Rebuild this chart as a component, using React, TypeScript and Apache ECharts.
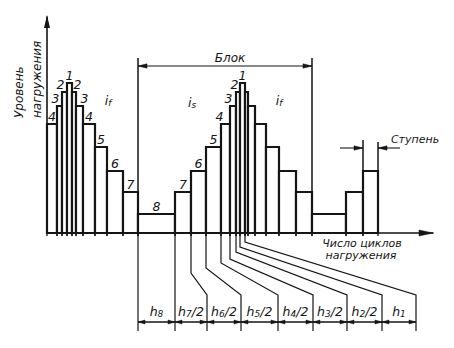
import React, { useEffect, useRef } from "react";
import * as echarts from "echarts";

// Cycle-axis boundaries of the load steps (left part + one block)
const barEdges = [0, 10, 15, 20, 25, 29, 36, 48, 60, 76, 91, 128, 144, 159, 174, 183, 189, 193, 198, 201, 208, 219, 232, 249, 265, 299, 316, 331];
// Load level number of each step
const barLevels = [4, 3, 2, 1, 2, 3, 4, 5, 6, 7, 8, 7, 6, 5, 4, 3, 2, 1, 2, 3, 4, 5, 6, 7, 8, 7, 6];
// Load magnitude of levels 1..8
const levelHeight = [150, 141, 127, 109, 86, 62, 41, 19];
// Level numbers written over the steps
const barLabels = ["4", "3", "2", "1", "2", "3", "4", "5", "6", "7", "8", "7", "6", "5", "4", "3", "2", "1", "", "", "", "", "", "", "", "", ""];
// Block limits and step marker (indices into barEdges)
const blockEdges = [10, 24];
const stepEdges = [26, 27];
// Leaders from block edges to the chain of cycle counts
const leaderEdges = [10, 11, 12, 13, 14, 15, 16, 17, 18];
const chainTicks = [91, 128, 160, 194, 231, 266, 300, 335, 369];
const chainSub = ["8", "7", "6", "5", "4", "3", "2", "1"];
const chainHalf = [false, true, true, true, true, true, true, false];
const leaderDrop = [0, 0, 40, 35, 30, 26, 19, 14, 9];

const INK = "#151515";
const FONT = "DejaVu Sans";

export default function App() {
  const ref = useRef<HTMLDivElement>(null);
  useEffect(() => {
    const chart = echarts.init(ref.current!, undefined, { renderer: "svg" });
    const bars = barLevels.map((lv, i) => [barEdges[i], barEdges[i + 1], levelHeight[lv - 1]]);

    const txt = (x: number, y: number, text: string, extra: any = {}) => ({
      type: "text",
      x, y,
      style: {
        text, x: 0, y: 0, fill: INK, fontFamily: FONT, fontStyle: "italic",
        fontSize: 11, align: "center", verticalAlign: "middle", ...extra,
      },
    });
    const tri = (tipX: number, tipY: number, dir: number, len = 9, half = 2.2) => ({
      type: "polygon",
      shape: { points: [[tipX, tipY], [tipX - dir * len, tipY - half], [tipX - dir * len, tipY + half]] },
      style: { fill: INK, stroke: INK, lineWidth: 0.5 },
    });
    const vTri = (tipX: number, tipY: number, len = 12, half = 3) => ({
      type: "polygon",
      shape: { points: [[tipX, tipY], [tipX - half, tipY + len], [tipX + half, tipY + len]] },
      style: { fill: INK },
    });
    const ln = (x1: number, y1: number, x2: number, y2: number, w = 1.3) => ({
      type: "line",
      shape: { x1, y1, x2, y2 },
      style: { stroke: INK, lineWidth: w },
    });

    chart.setOption({
      animation: false,
      grid: { left: 47, right: 21, top: 17, bottom: 115 },
      xAxis: {
        type: "value", min: 0, max: 386,
        axisLine: { show: true, onZero: false, lineStyle: { color: INK, width: 1.6 } },
        axisTick: { show: false }, axisLabel: { show: false }, splitLine: { show: false },
      },
      yAxis: {
        type: "value", min: 0, max: 216,
        axisLine: { show: true, onZero: false, lineStyle: { color: INK, width: 1.6 } },
        axisTick: { show: false }, axisLabel: { show: false }, splitLine: { show: false },
      },
      series: [
        {
          type: "custom",
          clip: false,
          z: 3,
          data: bars,
          renderItem: (params: any, api: any) => {
            const i = params.dataIndex;
            const x0 = api.value(0), x1 = api.value(1), h = api.value(2);
            const pT = api.coord([x0, h]);
            const pB = api.coord([x1, 0]);
            const w = pB[0] - pT[0];
            const children: any[] = [
              {
                type: "rect",
                shape: { x: pT[0], y: pT[1], width: w, height: pB[1] - pT[1] },
                style: { fill: "#fff", stroke: INK, lineWidth: 2.2 },
              },
              ln(pT[0], pB[1], pT[0], pB[1] + 3, 1.3),
              ln(pB[0], pB[1], pB[0], pB[1] + 3, 1.3),
            ];
            const lab = barLabels[i];
            if (lab) {
              let lx = pT[0] + w / 2;
              const lv = barLevels[i];
              const next = barLevels[i + 1];
              if (w < 10 && lv !== 1) {
                if (next !== undefined && next < lv) lx = pT[0] - 1.5;
                else lx = pB[0] + 1.5;
              }
              children.push(txt(lx, pT[1] - 8, lab, { fontSize: 12.5 }));
            }
            return { type: "group", children };
          },
        },
        {
          type: "custom",
          clip: false,
          z: 5,
          data: [[0, 0]],
          renderItem: (params: any, api: any) => {
            const o = api.coord([0, 0]);
            const axisY = o[1];
            const yTop = api.coord([0, 216])[1];
            const xEnd = api.coord([386, 0])[0];
            const ex = (k: number) => api.coord([barEdges[k], 0])[0];
            const topOf = (k: number) => api.coord([0, levelHeight[barLevels[k] - 1]])[1];
            const c: any[] = [];
            // axis arrows
            c.push(vTri(o[0], yTop - 2, 13, 3));
            c.push(tri(xEnd, axisY, 1, 14, 3));
            // block marker
            const bL = ex(blockEdges[0]);
            const bR = ex(blockEdges[1]);
            const bTop = 58, bArr = 66;
            c.push(ln(bL, bTop, bL, axisY, 1.5));
            c.push(ln(bR, bTop, bR, axisY, 1.5));
            c.push(ln(bL, bArr, bR, bArr, 1.1));
            c.push(tri(bL, bArr, -1));
            c.push(tri(bR, bArr, 1));
            c.push(txt((bL + bR) / 2 + 5, bArr - 8, "Блок", { fontSize: 12 }));
            // step marker
            const sL = ex(stepEdges[0]);
            const sR = ex(stepEdges[1]);
            const sTop = 140, sArr = 148;
            c.push(ln(sL, sTop, sL, topOf(stepEdges[0] - 1), 1.5));
            c.push(ln(sR, sTop + 2, sR, topOf(stepEdges[1] - 1), 1.5));
            c.push(ln(sL - 23, sArr, sL, sArr, 1.1));
            c.push(tri(sL, sArr, 1));
            c.push(ln(sR + 22, sArr, sR, sArr, 1.1));
            c.push(tri(sR, sArr, -1));
            c.push(txt(sR + 37, sTop - 1, "Ступень", { fontSize: 11 }));
            // leaders
            const chainTop = axisY + 62;
            const chainBot = axisY + 98;
            const dimY = axisY + 89;
            leaderEdges.forEach((k, j) => {
              const sx = ex(k);
              const tx = api.coord([chainTicks[j], 0])[0];
              const drop = leaderDrop[j];
              const pts = drop === 0
                ? [[sx, axisY], [sx, chainBot]]
                : [[sx, axisY], [sx, axisY + drop], [tx, chainTop], [tx, chainBot]];
              c.push({ type: "polyline", shape: { points: pts }, style: { stroke: INK, lineWidth: 1.2, fill: "none" } });
            });
            // dimension chain
            const x0 = api.coord([chainTicks[0], 0])[0];
            const xN = api.coord([chainTicks[chainTicks.length - 1], 0])[0];
            c.push(ln(x0, dimY, xN, dimY, 1.4));
            for (let j = 0; j < chainTicks.length - 1; j++) {
              const a = api.coord([chainTicks[j], 0])[0];
              const b = api.coord([chainTicks[j + 1], 0])[0];
              c.push(tri(a, dimY, -1, 7, 2));
              c.push(tri(b, dimY, 1, 7, 2));
              const t = "{h|h}{s|" + chainSub[j] + "}" + (chainHalf[j] ? "{h|/2}" : "");
              c.push({
                type: "text", x: (a + b) / 2, y: axisY + 78,
                style: {
                  text: t, x: 0, y: 0, align: "center", verticalAlign: "middle", fill: INK,
                  rich: {
                    h: { fontFamily: FONT, fontStyle: "italic", fontSize: 12.5, fill: INK },
                    s: { fontFamily: FONT, fontStyle: "italic", fontSize: 9, fill: INK, padding: [6, 0, 0, 0] },
                  },
                },
              });
            }
            return { type: "group", children: c };
          },
        },
      ],
      graphic: [
        txt(19, 118, "Уровень", { align: "left", fontSize: 12 }),
        txt(37, 118, "нагружения", { align: "left", fontSize: 12 }),
        ...[[108, 100, "f"], [192, 102, "s"], [279, 100, "f"]].map(([x, y, s]) => ({
          type: "text", x, y,
          style: {
            text: "{i|i}{s|" + s + "}", x: 0, y: 0, align: "center", verticalAlign: "middle",
            rich: {
              i: { fontFamily: FONT, fontStyle: "italic", fontSize: 12.5, fill: INK },
              s: { fontFamily: FONT, fontStyle: "italic", fontSize: 9, fill: INK, padding: [5, 0, 0, 0] },
            },
          },
        })),
        txt(362, 243, "Число циклов", { fontSize: 11 }),
        txt(361, 255, "нагружения", { fontSize: 11 }),
      ].map((g: any, idx: number) => (idx < 2 ? { ...g, rotation: Math.PI / 2 } : g)),
    });
    return () => chart.dispose();
  }, []);
  return <div ref={ref} style={{ position: "fixed", left: 0, top: 0, width: 454, height: 348, background: "#fff" }} />;
}
